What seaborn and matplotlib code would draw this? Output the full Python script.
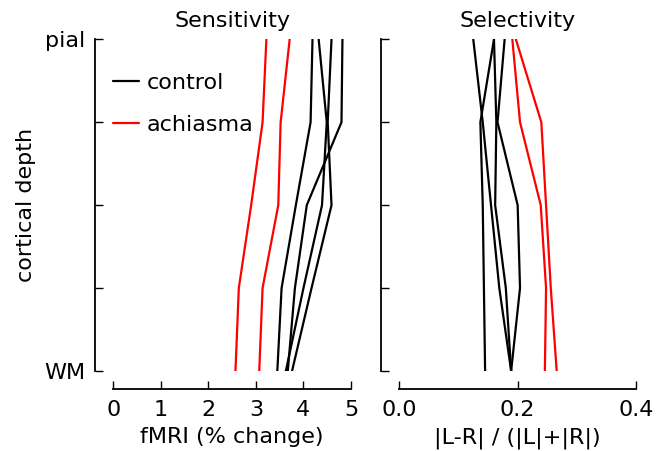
import matplotlib
matplotlib.use("Agg")
import matplotlib.pyplot as plt
import seaborn as sns
import pandas as pd

# cortical depth levels: 0 = pial ... 4 = WM
depth_levels = [0, 1, 2, 3, 4]
depth_ticklabels = ["pial", "", "", "", "WM"]

# Sensitivity (fMRI % change), per subject, pial -> WM
sens_control_1 = [4.19, 4.15, 3.84, 3.54, 3.45]
sens_control_2 = [4.32, 4.49, 4.39, 4.00, 3.63]
sens_control_3 = [4.59, 4.51, 4.59, 4.17, 3.76]
sens_control_4 = [4.82, 4.80, 4.07, 3.82, 3.67]
sens_achiasma_1 = [3.22, 3.14, 2.90, 2.64, 2.57]
sens_achiasma_2 = [3.71, 3.52, 3.47, 3.14, 3.07]

# Selectivity |L-R| / (|L|+|R|), per subject, pial -> WM
sel_control_1 = [0.160, 0.137, 0.141, 0.143, 0.145]
sel_control_2 = [0.125, 0.141, 0.155, 0.169, 0.189]
sel_control_3 = [0.160, 0.164, 0.162, 0.180, 0.189]
sel_control_4 = [0.178, 0.166, 0.200, 0.204, 0.189]
sel_achiasma_1 = [0.191, 0.204, 0.239, 0.248, 0.246]
sel_achiasma_2 = [0.197, 0.240, 0.248, 0.256, 0.266]

groups = ["control", "achiasma"]
palette = {"control": "black", "achiasma": "red"}


def make_df(series):
    rows = []
    for subj, (grp, vals) in enumerate(series):
        for d, v in zip(depth_levels, vals):
            rows.append({"depth": d, "value": v, "subject": subj, "group": grp})
    return pd.DataFrame(rows)


sens_df = make_df([
    ("control", sens_control_1), ("control", sens_control_2),
    ("control", sens_control_3), ("control", sens_control_4),
    ("achiasma", sens_achiasma_1), ("achiasma", sens_achiasma_2),
])
sel_df = make_df([
    ("control", sel_control_1), ("control", sel_control_2),
    ("control", sel_control_3), ("control", sel_control_4),
    ("achiasma", sel_achiasma_1), ("achiasma", sel_achiasma_2),
])

sns.set_style("ticks")
FS = 16
plt.rcParams["font.family"] = ["DejaVu Sans"]
plt.rcParams["font.size"] = FS
plt.rcParams["text.color"] = "black"
plt.rcParams["axes.labelcolor"] = "black"
plt.rcParams["xtick.color"] = "black"
plt.rcParams["ytick.color"] = "black"

fig = plt.figure(figsize=(6.66, 4.51), dpi=100)
W, H = 666, 451
ax1 = fig.add_axes([113.3 / W, 1 - 371 / H, (351 - 113.3) / W, (371 - 39.3) / H])
ax2 = fig.add_axes([399.3 / W, 1 - 371 / H, (636 - 399.3) / W, (371 - 39.3) / H])

for ax, df in [(ax1, sens_df), (ax2, sel_df)]:
    sns.lineplot(data=df, x="value", y="depth", units="subject", hue="group",
                 hue_order=groups, palette=palette, estimator=None, sort=False,
                 orient="y", linewidth=1.6, ax=ax, legend=(ax is ax1))
    ax.set_ylim(4, 0)
    ax.set_yticks(depth_levels)
    sns.despine(ax=ax, offset=13)
    ax.tick_params(direction="in", length=6, width=1, labelsize=FS)
    ax.tick_params(axis="x", pad=8)
    ax.tick_params(axis="y", pad=7)
    for s in ["left", "bottom"]:
        ax.spines[s].set_linewidth(1.3)
        ax.spines[s].set_color("black")

ax1.set_xlim(0, 5)
ax1.set_xticks([0, 1, 2, 3, 4, 5])
ax1.set_yticklabels(depth_ticklabels)
ax1.set_xlabel("fMRI (% change)", fontsize=FS, labelpad=5)
ax1.set_ylabel("cortical depth", fontsize=FS, labelpad=6)
ax1.set_title("Sensitivity", fontsize=FS, pad=8.5)

ax2.set_xlim(0, 0.4)
ax2.set_xticks([0.0, 0.2, 0.4])
ax2.set_xticklabels(["0.0", "0.2", "0.4"])
ax2.set_yticklabels([])
ax2.set_ylabel("")
ax2.set_xlabel("|L-R| / (|L|+|R|)", fontsize=FS, labelpad=5)
ax2.set_title("Selectivity", fontsize=FS, pad=8.5)

leg = ax1.legend(loc="upper left", bbox_to_anchor=(0.0, 0.898), frameon=False,
                 fontsize=FS, handlelength=1.15, labelspacing=0.98,
                 handletextpad=0.35, borderpad=0, borderaxespad=0)

fig.savefig("out.png", dpi=100)
